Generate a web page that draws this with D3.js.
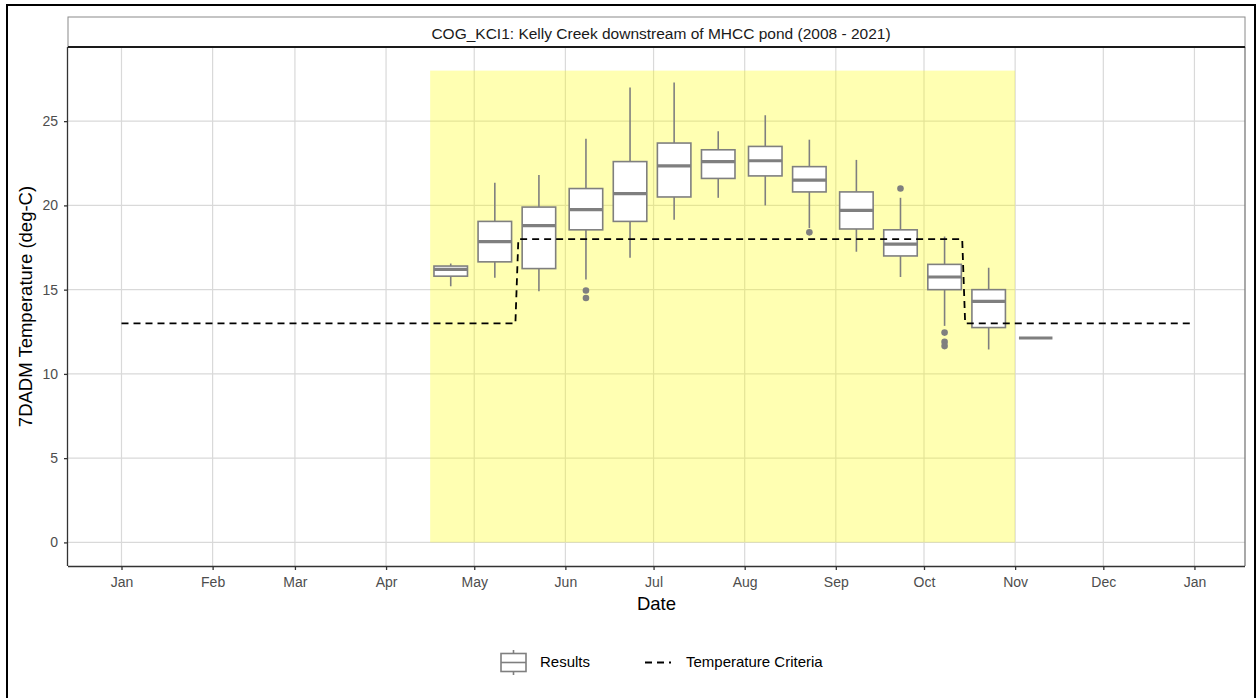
<!DOCTYPE html>
<html><head><meta charset="utf-8">
<script src="https://cdn.jsdelivr.net/npm/d3@7"></script>
<style>body{margin:0;background:#fff;} svg{display:block;font-family:"Liberation Sans",Arial,sans-serif;}</style>
</head><body>
<svg id="chart" width="1257" height="698"></svg>
<script>
// ---- data ----
const title = "COG_KCI1: Kelly Creek downstream of MHCC pond (2008 - 2021)";
const periodDates = ["2021-04-23","2021-05-08","2021-05-23","2021-06-08","2021-06-23","2021-07-08","2021-07-23","2021-08-08","2021-08-23","2021-09-08","2021-09-23","2021-10-08","2021-10-23","2021-11-08"];
const whiskerLow  = [15.2, 15.7, 14.9, 15.6, 16.9, 19.15, 20.45, 20.0, 18.65, 17.25, 15.75, 12.85, 11.45, 12.13];
const q1          = [15.8, 16.65, 16.25, 18.55, 19.05, 20.5, 21.6, 21.75, 20.8, 18.6, 17.0, 15.0, 12.75, 12.13];
const medians     = [16.2, 17.85, 18.8, 19.75, 20.7, 22.35, 22.6, 22.65, 21.5, 19.7, 17.7, 15.75, 14.3, 12.13];
const q3          = [16.4, 19.05, 19.9, 21.0, 22.6, 23.7, 23.3, 23.5, 22.3, 20.8, 18.55, 16.5, 15.0, 12.13];
const whiskerHigh = [16.55, 21.35, 21.8, 23.95, 27.0, 27.3, 24.4, 25.35, 23.9, 22.7, 20.45, 18.15, 16.3, 12.13];
const outlierPeriod = [3, 3, 8, 10, 11, 11, 11];
const outlierValue  = [14.95, 14.5, 18.4, 21.0, 12.45, 11.9, 11.65];
const criteriaDates  = ["2021-01-01","2021-05-15","2021-05-16","2021-10-14","2021-10-15","2021-12-31"];
const criteriaValues = [13, 13, 18, 18, 13, 13];
const seasonStart = "2021-04-16", seasonEnd = "2021-11-01", seasonTop = 28;
const yTicks = [0, 5, 10, 15, 20, 25];
const monthTicks = ["2021-01-01","2021-02-01","2021-03-01","2021-04-01","2021-05-01","2021-06-01","2021-07-01","2021-08-01","2021-09-01","2021-10-01","2021-11-01","2021-12-01","2022-01-01"];
const monthLabels = ["Jan","Feb","Mar","Apr","May","Jun","Jul","Aug","Sep","Oct","Nov","Dec","Jan"];

// ---- layout ----
const P = {left: 68, right: 1245, top: 47, bottom: 566, stripTop: 17};
const parse = d3.timeParse("%Y-%m-%d");
const DAY = 86400000;
const d0 = parse("2021-01-01"), d1 = parse("2021-12-31");
const padD = (d1 - d0) * 0.05;
const x = d3.scaleTime().domain([new Date(+d0 - padD), new Date(+d1 + padD)]).range([P.left, P.right]);
const y = d3.scaleLinear().domain([-1.4, 29.4]).range([P.bottom, P.top]);

const svg = d3.select("#chart");
svg.append("rect").attr("x",0).attr("y",0).attr("width",1257).attr("height",698).attr("fill","#fff");
svg.append("rect").attr("x",7).attr("y",5).attr("width",1248).attr("height",700)
  .attr("fill","none").attr("stroke","#000").attr("stroke-width",2);

// strip
svg.append("rect").attr("x",P.left).attr("y",P.stripTop).attr("width",P.right-P.left).attr("height",P.top-P.stripTop)
  .attr("fill","#fff").attr("stroke","#8a8a8a").attr("stroke-width",1);
svg.append("text").attr("x",661).attr("y",39)
  .attr("text-anchor","middle").attr("font-size",15.5).attr("fill","#1a1a1a").text(title);

// grid
const g = svg.append("g");
g.selectAll(".hg").data(yTicks).join("line")
  .attr("x1",P.left).attr("x2",P.right).attr("y1",d=>y(d)).attr("y2",d=>y(d))
  .attr("stroke","#d9d9d9").attr("stroke-width",1.2);
g.selectAll(".vg").data(monthTicks).join("line")
  .attr("x1",d=>x(parse(d))).attr("x2",d=>x(parse(d))).attr("y1",P.top).attr("y2",P.bottom)
  .attr("stroke","#d9d9d9").attr("stroke-width",1.2);

// season rect
g.append("rect").attr("x",x(parse(seasonStart))).attr("width",x(parse(seasonEnd))-x(parse(seasonStart)))
  .attr("y",y(seasonTop)).attr("height",y(0)-y(seasonTop)).attr("fill","#ffff00").attr("fill-opacity",0.3);

// boxes
const boxW = x(new Date(+d0 + 11.4*DAY)) - x(d0);
const boxes = periodDates.map((d,i)=>({cx:x(parse(d)), lo:whiskerLow[i], q1:q1[i], med:medians[i], q3:q3[i], hi:whiskerHigh[i]}));
const bg = g.append("g");
const grey = "#7f7f7f";
boxes.forEach(b=>{
  bg.append("line").attr("x1",b.cx).attr("x2",b.cx).attr("y1",y(b.hi)).attr("y2",y(b.q3)).attr("stroke",grey).attr("stroke-width",1.6);
  bg.append("line").attr("x1",b.cx).attr("x2",b.cx).attr("y1",y(b.q1)).attr("y2",y(b.lo)).attr("stroke",grey).attr("stroke-width",1.6);
  bg.append("rect").attr("x",b.cx-boxW/2).attr("width",boxW).attr("y",y(b.q3)).attr("height",Math.max(0,y(b.q1)-y(b.q3)))
    .attr("fill","#fff").attr("stroke",grey).attr("stroke-width",1.6);
  bg.append("line").attr("x1",b.cx-boxW/2).attr("x2",b.cx+boxW/2).attr("y1",y(b.med)).attr("y2",y(b.med))
    .attr("stroke",grey).attr("stroke-width",3.2);
});
bg.selectAll("circle").data(outlierValue).join("circle")
  .attr("cx",(d,i)=>boxes[outlierPeriod[i]].cx).attr("cy",d=>y(d)).attr("r",3.3).attr("fill",grey);

// criteria line
const line = d3.line().x((d,i)=>x(parse(criteriaDates[i]))).y(d=>y(d));
g.append("path").attr("d",line(criteriaValues)).attr("fill","none").attr("stroke","#000")
  .attr("stroke-width",1.8).attr("stroke-dasharray","7,5");

// panel border
svg.append("line").attr("x1",P.right).attr("x2",P.right).attr("y1",P.top).attr("y2",P.bottom).attr("stroke","#7a7a7a").attr("stroke-width",1.3);
svg.append("line").attr("x1",P.left).attr("x2",P.right).attr("y1",P.top).attr("y2",P.top).attr("stroke","#1a1a1a").attr("stroke-width",2);

// axes
const xAxis = d3.axisBottom(x).tickValues(monthTicks.map(parse)).tickFormat((d,i)=>monthLabels[i]).tickSize(4).tickPadding(7);
const xa = svg.append("g").attr("transform",`translate(0,${P.bottom})`).call(xAxis);
const yAxis = d3.axisLeft(y).tickValues(yTicks).tickSize(4).tickPadding(6);
const ya = svg.append("g").attr("transform",`translate(${P.left},0)`).call(yAxis);
[xa,ya].forEach(a=>{
  a.select(".domain").attr("stroke","#333").attr("stroke-width",1.3);
  a.selectAll(".tick line").attr("stroke","#333").attr("stroke-width",1.3);
  a.selectAll(".tick text").attr("fill","#4d4d4d").attr("font-size",14).attr("font-family","Liberation Sans, Arial, sans-serif");
});
xa.select(".domain").attr("d",`M${P.left},0.5H${P.right}`);
ya.select(".domain").attr("d",`M-0.5,${P.top}V${P.bottom}`);

// axis titles
svg.append("text").attr("x",(P.left+P.right)/2).attr("y",610).attr("text-anchor","middle")
  .attr("font-size",18.5).attr("fill","#000").text("Date");
svg.append("text").attr("transform",`translate(32,${(P.top+P.bottom)/2}) rotate(-90)`).attr("text-anchor","middle")
  .attr("font-size",18.5).attr("fill","#000").text("7DADM Temperature (deg-C)");

// legend
const lg = svg.append("g");
lg.append("line").attr("x1",513.5).attr("x2",513.5).attr("y1",650).attr("y2",675).attr("stroke",grey).attr("stroke-width",1.6);
lg.append("rect").attr("x",501).attr("y",653.5).attr("width",25).attr("height",18).attr("fill","#fff").attr("stroke",grey).attr("stroke-width",1.6);
lg.append("line").attr("x1",501).attr("x2",526).attr("y1",662.5).attr("y2",662.5).attr("stroke",grey).attr("stroke-width",1.6);
lg.append("text").attr("x",540).attr("y",667).attr("font-size",15).attr("fill","#000").text("Results");
lg.append("line").attr("x1",645).attr("x2",671).attr("y1",662.5).attr("y2",662.5).attr("stroke","#000").attr("stroke-width",1.8).attr("stroke-dasharray","7,5");
lg.append("text").attr("x",686).attr("y",667).attr("font-size",15).attr("fill","#000").text("Temperature Criteria");
</script>
</body></html>
